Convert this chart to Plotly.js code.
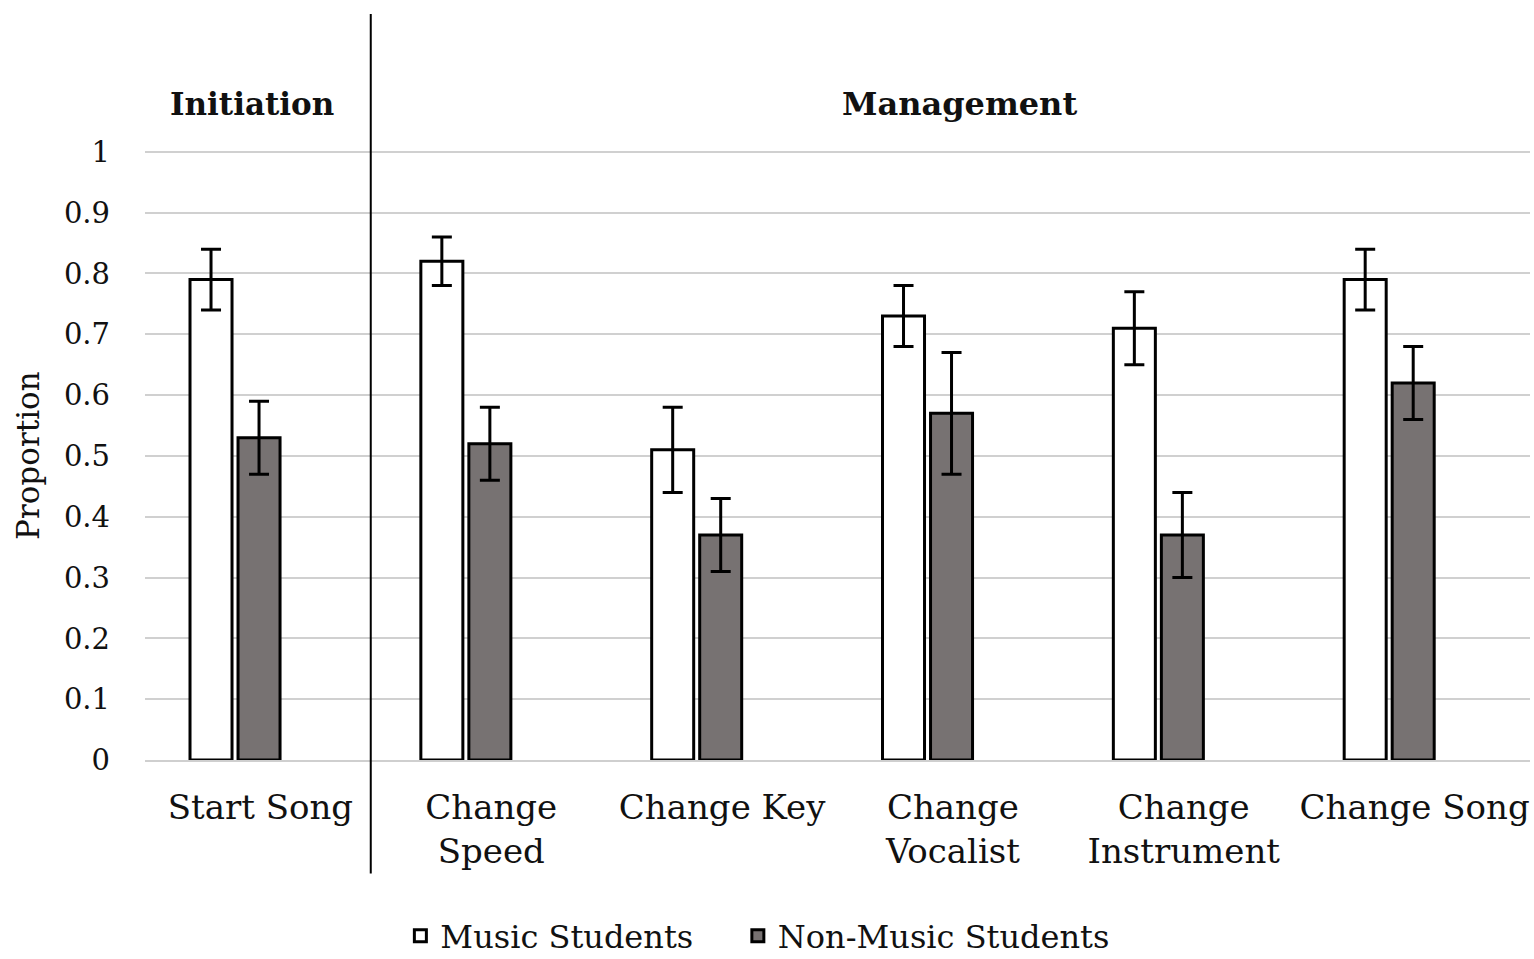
<!DOCTYPE html>
<html>
<head>
<meta charset="utf-8">
<script src="https://cdn.plot.ly/plotly-3.0.1.min.js"></script>
<style>
  html, body { margin: 0; padding: 0; background: #fff; }
  #chart { width: 1534px; height: 959px; }
</style>
</head>
<body>
<div id="chart"></div>
<script>
// values
const categories = ['Start Song', 'Change<br>Speed', 'Change Key', 'Change<br>Vocalist', 'Change<br>Instrument', 'Change Song'];
const musicStudents = [0.79, 0.82, 0.51, 0.73, 0.71, 0.79];
const musicErr = [0.05, 0.04, 0.07, 0.05, 0.06, 0.05];
const nonMusicStudents = [0.53, 0.52, 0.37, 0.57, 0.37, 0.62];
const nonMusicErr = [0.06, 0.06, 0.06, 0.10, 0.07, 0.06];
const yTicks = [0, 0.1, 0.2, 0.3, 0.4, 0.5, 0.6, 0.7, 0.8, 0.9, 1];

const serif = 'DejaVu Serif, Liberation Serif, serif';

const data = [
  {
    x: categories,
    y: musicStudents,
    name: 'Music Students',
    type: 'bar',
    legend: 'legend',
    offset: -0.305,
    width: 0.182,
    marker: { color: '#ffffff', line: { color: '#000000', width: 3 } },
    error_y: { type: 'data', array: musicErr, visible: true, color: '#000000', thickness: 3, width: 10 },
  },
  {
    x: categories,
    y: nonMusicStudents,
    name: 'Non-Music Students',
    type: 'bar',
    legend: 'legend2',
    offset: -0.097,
    width: 0.182,
    marker: { color: '#777272', line: { color: '#000000', width: 3 } },
    error_y: { type: 'data', array: nonMusicErr, visible: true, color: '#000000', thickness: 3, width: 10 },
  },
];

// one legend per series so the gap between entries can be set like the original
const legendBase = {
  orientation: 'h',
  xref: 'container',
  yref: 'container',
  y: 0.024,
  xanchor: 'left',
  yanchor: 'middle',
  font: { family: serif, size: 32, color: '#111111' },
  itemwidth: 30,
};

// top of range nudged past 1 so the gridline at 1 is drawn
const layout = {
  width: 1534,
  height: 959,
  margin: { l: 145, r: 4, t: 150, b: 199 },
  plot_bgcolor: '#ffffff',
  paper_bgcolor: '#ffffff',
  font: { family: serif, color: '#111111' },
  showlegend: true,
  hovermode: false,
  xaxis: {
    type: 'category',
    tickfont: { family: serif, size: 34, color: '#111111' },
    showgrid: false,
    showline: true,
    linecolor: '#cfcfcf',
    linewidth: 2,
    ticks: '',
    ticklabelstandoff: 16,
    fixedrange: true,
  },
  yaxis: {
    range: [0, 1.003],
    tickvals: yTicks,
    ticktext: yTicks.map(v => String(v)),
    tickfont: { family: serif, size: 29, color: '#111111' },
    showgrid: true,
    gridcolor: '#d0d0d0',
    gridwidth: 2,
    zeroline: false,
    showline: false,
    ticks: '',
    ticklabelstandoff: 34,
    fixedrange: true,
  },
  legend: Object.assign({}, legendBase, { x: 0.261 }),
  legend2: Object.assign({}, legendBase, { x: 0.481 }),
  shapes: [
    {
      type: 'line',
      xref: 'paper',
      yref: 'paper',
      x0: 0.163,
      x1: 0.163,
      y0: 1.223,
      y1: -0.186,
      line: { color: '#000000', width: 2 },
    },
  ],
  annotations: [
    {
      text: '<b>Initiation</b>',
      xref: 'paper',
      yref: 'paper',
      x: 0.077,
      y: 1.0755,
      xanchor: 'center',
      yanchor: 'middle',
      showarrow: false,
      font: { family: serif, size: 31, color: '#111111' },
    },
    {
      text: '<b>Management</b>',
      xref: 'paper',
      yref: 'paper',
      x: 0.588,
      y: 1.0755,
      xanchor: 'center',
      yanchor: 'middle',
      showarrow: false,
      font: { family: serif, size: 32, color: '#111111' },
    },
    {
      text: 'Proportion',
      xref: 'paper',
      yref: 'paper',
      x: -0.0845,
      y: 0.5,
      xanchor: 'center',
      yanchor: 'middle',
      textangle: -90,
      showarrow: false,
      font: { family: serif, size: 31, color: '#111111' },
    },
  ],
};

Plotly.newPlot('chart', data, layout, { displayModeBar: false, staticPlot: true });
</script>
</body>
</html>
